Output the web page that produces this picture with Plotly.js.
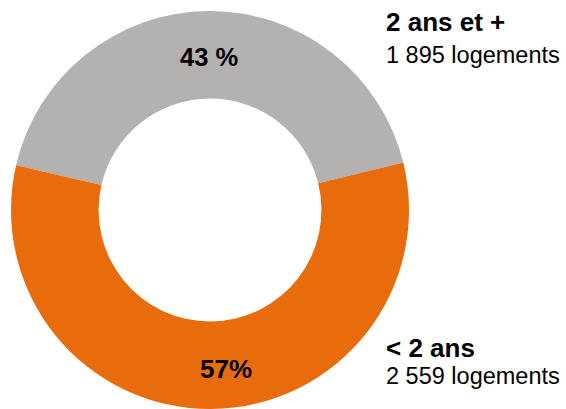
<!DOCTYPE html>
<html>
<head>
<meta charset="utf-8">
<script src="https://cdn.plot.ly/plotly-3.0.1.min.js"></script>
<style>html,body{margin:0;padding:0;background:#fff;}#chart{width:566px;height:409px;}</style>
</head>
<body>
<div id="chart"></div>
<script>
var categories = ["2 ans et +", "< 2 ans"];
var counts = [1895, 2559];
var countLabels = ["1 895 logements", "2 559 logements"];
var pctLabels = ["43 %", "57%"];
var colors = ["#B4B2B0", "#E96C0C"];

var FONT = "Liberation Sans, Arial, sans-serif";

var trace = {
  type: "pie",
  labels: categories,
  values: counts,
  sort: false,
  direction: "clockwise",
  rotation: -77,
  hole: 0.56,
  textinfo: "none",
  hoverinfo: "label+value",
  marker: {colors: colors, line: {width: 0}},
  domain: {x: [10/566, 410/566], y: [0, 1 - 11/409]},
  showlegend: false
};

var ann = [];
ann.push({xref: "paper", yref: "paper", x: 208.5/566, y: 1 - 56.5/409, xanchor: "center", yanchor: "middle",
  text: "<b>" + pctLabels[0] + "</b>", showarrow: false, font: {family: FONT, size: 25.5, color: "#000"}});
ann.push({xref: "paper", yref: "paper", x: 225.5/566, y: 1 - 368.5/409, xanchor: "center", yanchor: "middle",
  text: "<b>" + pctLabels[1] + "</b>", showarrow: false, font: {family: FONT, size: 26, color: "#000"}});
var sideY = [[22, 55], [347.5, 375.5]];
for (var i = 0; i < categories.length; i++) {
  ann.push({xref: "paper", yref: "paper", x: 384/566, y: 1 - sideY[i][0]/409, xanchor: "left", yanchor: "middle",
    text: "<b>" + categories[i] + "</b>", showarrow: false, font: {family: FONT, size: 26, color: "#000"}});
  ann.push({xref: "paper", yref: "paper", x: 384/566, y: 1 - sideY[i][1]/409, xanchor: "left", yanchor: "middle",
    text: countLabels[i], showarrow: false, font: {family: FONT, size: 23.5, color: "#000"}});
}

var layout = {
  width: 566, height: 409,
  margin: {l: 0, r: 0, t: 0, b: 0},
  paper_bgcolor: "#fff",
  plot_bgcolor: "#fff",
  annotations: ann,
  showlegend: false
};

Plotly.newPlot("chart", [trace], layout, {displayModeBar: false, staticPlot: true});
</script>
</body>
</html>
